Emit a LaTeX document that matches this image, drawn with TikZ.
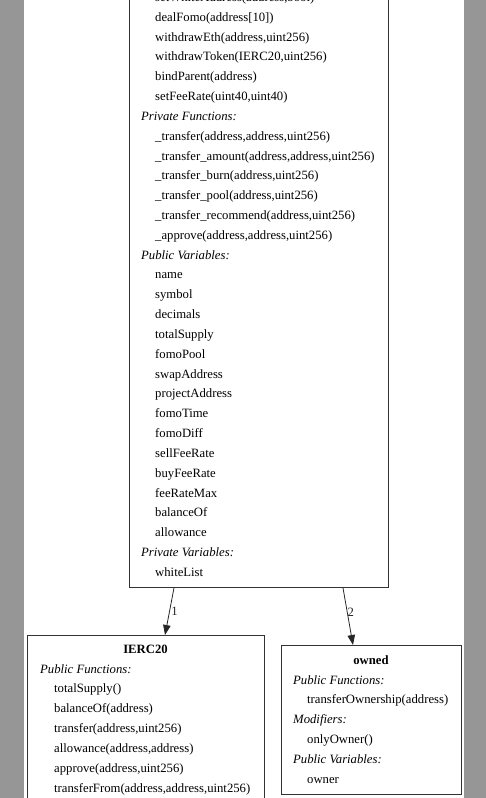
\documentclass[tikz,border=0pt]{standalone}
\usepackage{fontspec}
\setmainfont{Liberation Serif}
\usetikzlibrary{arrows.meta}
\definecolor{side}{RGB}{150,150,150}
\tikzset{
  box/.style={draw=black!80,line width=.9pt,inner sep=0pt},
  itm/.style={anchor=west,inner sep=0pt,text height=9pt,text depth=3pt},
  hdr/.style={itm,font=\fontsize{12.7}{14}\selectfont\itshape,xshift=-14pt},
  ttl/.style={inner sep=0pt,text height=9pt,text depth=3pt,font=\fontsize{12.7}{14}\selectfont\bfseries},
  lnk/.style={-{Triangle[length=10pt,width=7.5pt]},line width=.8pt,black!85}
}
\begin{document}
\begin{tikzpicture}[x=1pt,y=-1pt,font=\fontsize{12.7}{14}\selectfont]
\useasboundingbox (0,0) rectangle (486,798);
\clip (0,0) rectangle (486,798);
\fill[side] (0,0) rectangle (24,798);
\fill[side] (464,0) rectangle (486,798);
\node[box,anchor=north west,minimum width=259pt,minimum height=607pt] (main) at (129,-20) {};
\node[box,anchor=north west,minimum width=237pt,minimum height=190pt] (ierc) at (27,635) {};
\node[box,anchor=north west,minimum width=180pt,minimum height=149pt] (owned) at (281,645) {};
\foreach \s/\t [count=\i from 0] in {itm/{setWhiteAddress(address,bool)},itm/{dealFomo(address[10])},
  itm/{withdrawEth(address,uint256)},itm/{withdrawToken(IERC20,uint256)},itm/{bindParent(address)},
  itm/{setFeeRate(uint40,uint40)},hdr/{Private Functions:},itm/{\_transfer(address,address,uint256)},
  itm/{\_transfer\_amount(address,address,uint256)},itm/{\_transfer\_burn(address,uint256)},
  itm/{\_transfer\_pool(address,uint256)},itm/{\_transfer\_recommend(address,uint256)},
  itm/{\_approve(address,address,uint256)},hdr/{Public Variables:},itm/name,itm/symbol,itm/decimals,
  itm/totalSupply,itm/fomoPool,itm/swapAddress,itm/projectAddress,itm/fomoTime,itm/fomoDiff,
  itm/sellFeeRate,itm/buyFeeRate,itm/feeRateMax,itm/balanceOf,itm/allowance,
  hdr/{Private Variables:},itm/whiteList}
  \node[\s] (m\i) at (155,{-1.5+19.82*\i}) {\t};
\node[ttl] (iercT) at (145.5,650) {IERC20};
\foreach \s/\t [count=\i from 0] in {hdr/{Public Functions:},itm/{totalSupply()},itm/{balanceOf(address)},
  itm/{transfer(address,uint256)},itm/{allowance(address,address)},itm/{approve(address,uint256)},
  itm/{transferFrom(address,address,uint256)}}
  \node[\s] (e\i) at (54,{670+19.9*\i}) {\t};
\node[ttl] (ownedT) at (371,661) {owned};
\foreach \s/\t [count=\i from 0] in {hdr/{Public Functions:},itm/{transferOwnership(address)},
  hdr/{Modifiers:},itm/{onlyOwner()},hdr/{Public Variables:},itm/owner}
  \node[\s] (o\i) at (307,{681+19.8*\i}) {\t};
\draw[lnk] ([xshift=45pt]main.south west) -- node[right,inner sep=1.5pt] {1} ([xshift=138pt]ierc.north west);
\draw[lnk] ([xshift=214pt]main.south west) -- node[pos=.42,right,inner sep=0pt] {2} ([xshift=72pt]owned.north west);
\end{tikzpicture}
\end{document}
